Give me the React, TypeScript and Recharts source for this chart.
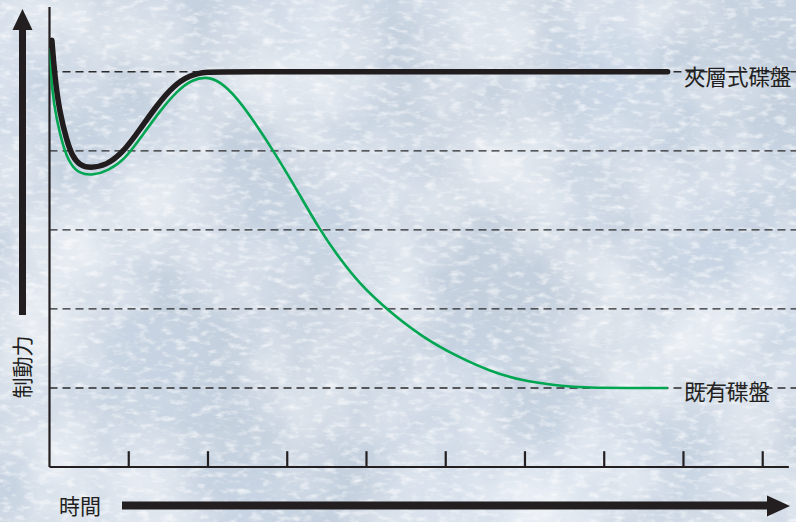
import { LineChart, Line, XAxis, YAxis, ReferenceLine } from "recharts";

// time in tick units (tick 1..9), force in dashed-grid units (1..5)
const layeredDisc = [
  { t: 0.03, f: 5.4 },
  { t: 0.07, f: 4.9 },
  { t: 0.13, f: 4.48 },
  { t: 0.22, f: 4.12 },
  { t: 0.29, f: 3.93 },
  { t: 0.38, f: 3.82 },
  { t: 0.51, f: 3.78 },
  { t: 0.72, f: 3.82 },
  { t: 0.92, f: 3.97 },
  { t: 1.14, f: 4.27 },
  { t: 1.35, f: 4.57 },
  { t: 1.56, f: 4.82 },
  { t: 1.77, f: 4.96 },
  { t: 1.98, f: 5.0 },
  { t: 2.3, f: 5.0 },
  { t: 7.8, f: 5.0 },
];

const normalDisc = [
  { t: 0.0, f: 5.3 },
  { t: 0.03, f: 4.77 },
  { t: 0.09, f: 4.39 },
  { t: 0.17, f: 4.06 },
  { t: 0.26, f: 3.83 },
  { t: 0.38, f: 3.71 },
  { t: 0.55, f: 3.69 },
  { t: 0.74, f: 3.75 },
  { t: 0.95, f: 3.89 },
  { t: 1.16, f: 4.18 },
  { t: 1.39, f: 4.5 },
  { t: 1.61, f: 4.76 },
  { t: 1.8, f: 4.9 },
  { t: 1.98, f: 4.94 },
  { t: 2.15, f: 4.88 },
  { t: 2.36, f: 4.68 },
  { t: 2.57, f: 4.39 },
  { t: 2.82, f: 4.01 },
  { t: 3.12, f: 3.51 },
  { t: 3.41, f: 3.0 },
  { t: 3.66, f: 2.64 },
  { t: 3.91, f: 2.32 },
  { t: 4.27, f: 1.98 },
  { t: 4.71, f: 1.64 },
  { t: 5.14, f: 1.4 },
  { t: 5.56, f: 1.21 },
  { t: 5.97, f: 1.09 },
  { t: 6.4, f: 1.03 },
  { t: 6.82, f: 1.0 },
  { t: 7.3, f: 1.0 },
  { t: 7.8, f: 1.0 },
];

const timeTicks = [1, 2, 3, 4, 5, 6, 7, 8, 9];
const gridLevels = [1, 2, 3, 4, 5];

const seriesNames = ["夾層式碟盤", "既有碟盤"];
const yTitle = "制動力";
const xTitle = "時間";

const cjk = '"Noto Sans CJK TC", "Noto Sans", sans-serif';
const ink = "#231f20";

function Background() {
  return (
    <svg width={796} height={522} style={{ position: "absolute", left: 0, top: 0 }}>
      <defs>
        <filter id="blotch" x="0" y="0" width="100%" height="100%">
          <feTurbulence type="fractalNoise" baseFrequency="0.007" numOctaves="4" seed="7" />
          <feColorMatrix values="0 0 0 0 1  0 0 0 0 1  0 0 0 0 1  1.5 0 0 0 -0.55" />
        </filter>
        <filter id="blue" x="0" y="0" width="100%" height="100%">
          <feTurbulence type="fractalNoise" baseFrequency="0.005" numOctaves="3" seed="21" />
          <feColorMatrix values="0 0 0 0 0.62  0 0 0 0 0.71  0 0 0 0 0.83  1.6 0 0 0 -0.6" />
        </filter>
        <filter id="grain" x="0" y="0" width="100%" height="100%">
          <feTurbulence type="fractalNoise" baseFrequency="0.08 0.18" numOctaves="3" seed="3" />
          <feColorMatrix values="0 0 0 0 1  0 0 0 0 1  0 0 0 0 1  1.6 0 0 0 -0.78" />
        </filter>
      </defs>
      <rect width={796} height={522} fill="#c4d0de" />
      <rect width={796} height={522} filter="url(#blue)" />
      <rect width={796} height={522} filter="url(#blotch)" />
      <rect width={796} height={522} filter="url(#grain)" />
    </svg>
  );
}

function Overlay() {
  return (
    <svg width={796} height={522} style={{ position: "absolute", left: 0, top: 0 }}>
      {/* up arrow */}
      <rect x={19} y={28} width={7} height={287} fill={ink} />
      <polygon points="12.5,30 32.5,30 22.5,9" fill={ink} />
      {/* right arrow */}
      <rect x={122} y={501.5} width={648} height={8} fill={ink} />
      <polygon points="767,495.5 767,516.5 790,506" fill={ink} />
      <text
        x={0}
        y={0}
        transform="translate(29.5,367) rotate(-90)"
        textAnchor="middle"
        fontSize={21}
        fontFamily={cjk}
        fill={ink}
      >
        {yTitle}
      </text>
      <text x={59} y={514} fontSize={21} fontFamily={cjk} fill={ink}>
        {xTitle}
      </text>
      <text x={684} y={85} fontSize={21.5} fontFamily={cjk} fill={ink}>
        {seriesNames[0]}
      </text>
      <text x={684} y={400} fontSize={21.5} fontFamily={cjk} fill={ink}>
        {seriesNames[1]}
      </text>
    </svg>
  );
}

export default function App() {
  return (
    <div style={{ position: "absolute", left: 0, top: 0, width: 796, height: 522, overflow: "hidden" }}>
      <Background />
      <div style={{ position: "absolute", left: 0, top: 0 }}>
        <LineChart width={796} height={522} margin={{ top: 7, right: 0, bottom: 55, left: 49.5 }}>
          <XAxis type="number" dataKey="t" domain={[0, 9.42]} hide height={0} allowDataOverflow />
          <YAxis type="number" dataKey="f" domain={[0, 5.82]} hide width={0} allowDataOverflow />
          {gridLevels.map((g) => (
            <ReferenceLine key={`g${g}`} y={g} stroke="#2b2b2d" strokeWidth={1.4} strokeDasharray="8 5" />
          ))}
          {timeTicks.map((t) => (
            <ReferenceLine
              key={`t${t}`}
              segment={[
                { x: t, y: 0 },
                { x: t, y: 0.2 },
              ]}
              stroke={ink}
              strokeWidth={2.2}
            />
          ))}
          <ReferenceLine
            segment={[
              { x: 0, y: 0 },
              { x: 9.33, y: 0 },
            ]}
            stroke={ink}
            strokeWidth={2.2}
          />
          <ReferenceLine x={0} stroke={ink} strokeWidth={2.2} />
          <Line
            data={normalDisc}
            dataKey="f"
            type="basis"
            stroke="#00a651"
            strokeWidth={2.6}
            dot={false}
            isAnimationActive={false}
          />
          <Line
            data={layeredDisc}
            dataKey="f"
            type="basis"
            stroke="#211d1e"
            strokeWidth={5.5}
            strokeLinecap="round"
            dot={false}
            isAnimationActive={false}
          />
        </LineChart>
      </div>
      <Overlay />
    </div>
  );
}
